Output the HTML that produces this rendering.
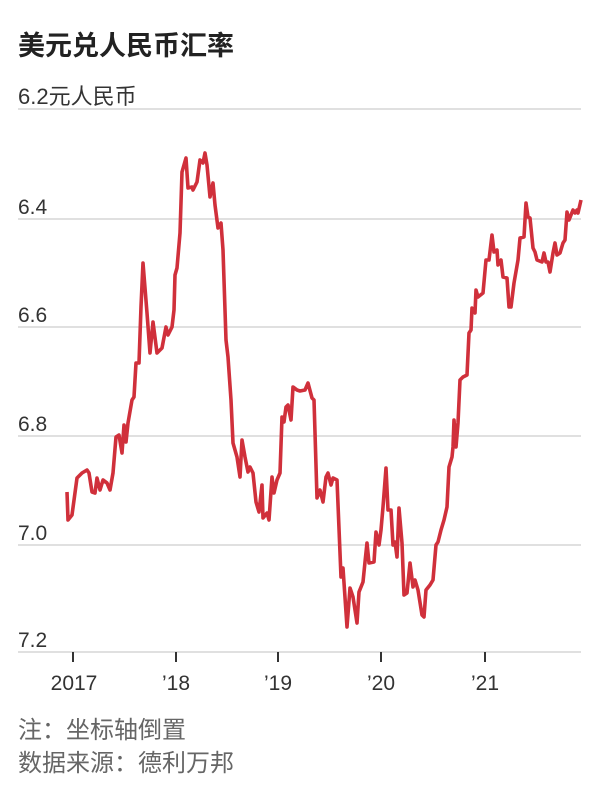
<!DOCTYPE html>
<html><head><meta charset="utf-8"><style>
html,body{margin:0;padding:0;background:#fff;}
svg{display:block;}
text{font-family:"Liberation Sans","Noto Sans CJK SC",sans-serif;}
</style></head><body>
<svg width="600" height="800" viewBox="0 0 600 800" xmlns="http://www.w3.org/2000/svg">
<text x="18" y="55" font-size="27" font-weight="bold" fill="#222">美元兑人民币汇率</text>
<g stroke="#e0e0e0" stroke-width="2">
<line x1="18" y1="109" x2="581" y2="109"/>
<line x1="18" y1="219" x2="581" y2="219"/>
<line x1="18" y1="327" x2="581" y2="327"/>
<line x1="18" y1="436" x2="581" y2="436"/>
<line x1="18" y1="545" x2="581" y2="545"/>
<line x1="18" y1="652" x2="581" y2="652"/>
</g>
<g font-size="21" fill="#333">
<text x="18" y="104" font-size="22">6.2元人民币</text>
<text x="18" y="214">6.4</text>
<text x="18" y="322">6.6</text>
<text x="18" y="431">6.8</text>
<text x="18" y="540">7.0</text>
<text x="18" y="647">7.2</text>
</g>
<g stroke="#333" stroke-width="2">
<line x1="73" y1="652" x2="73" y2="662"/>
<line x1="176" y1="652" x2="176" y2="662"/>
<line x1="278" y1="652" x2="278" y2="662"/>
<line x1="381" y1="652" x2="381" y2="662"/>
<line x1="485" y1="652" x2="485" y2="662"/>
</g>
<g font-size="21" fill="#333" text-anchor="middle">
<text x="74" y="690">2017</text>
<text x="176" y="690">’18</text>
<text x="278" y="690">’19</text>
<text x="381" y="690">’20</text>
<text x="485" y="690">’21</text>
</g>
<polyline fill="none" stroke="#d0303b" stroke-width="3.6" stroke-linejoin="round" points="
67,492 68,520 72,515 77,478 82,473 87,470 89,473 92,492 95,493 97,478 100,490 103,480 107,483 110,490 113,473 116,437 119,435 122,453 124,425 126,442 128,423 132,400 134,397 136,363 139,363 141,307 143,263 147,313 150,353 153,322 157,353 162,348 166,327 168,335 172,327 174,310 175,275 177,268 180,233 182,172 186,158 188,188 192,187 193,190 197,182 200,160 203,163 205,153 207,165 210,197 213,183 215,205 218,228 221,223 223,250 226,340 228,357 231,400 233,443 237,457 240,477 242,440 245,457 248,472 250,467 253,473 256,502 259,512 262,485 263,518 267,513 269,520 272,477 274,493 277,480 280,473 282,417 284,422 286,407 288,405 291,420 293,387 297,390 300,391 305,390 308,383 312,398 314,400 317,498 320,490 323,502 326,477 328,473 331,485 333,478 337,480 341,577 343,568 347,627 350,588 353,597 357,623 359,592 363,582 365,562 367,543 369,563 374,562 376,532 379,545 381,530 383,507 386,468 388,510 391,510 393,545 395,542 397,557 399,508 402,543 404,595 407,593 410,563 413,587 415,580 418,590 422,615 424,617 426,590 430,585 433,580 436,545 438,542 441,530 444,520 447,507 449,467 452,457 453,447 454,420 456,447 458,423 460,380 463,377 467,375 469,333 471,330 472,308 475,313 476,290 478,297 483,293 486,260 489,260 492,235 494,252 497,250 498,265 501,260 503,277 507,278 509,307 511,307 514,283 518,260 520,238 524,237 526,203 528,217 530,218 533,248 535,252 537,260 542,262 544,253 546,262 548,262 550,272 553,253 555,243 557,255 560,253 563,243 565,240 567,212 569,220 573,210 575,213 577,210 578,213 581,200"/>
<g font-size="24" fill="#666">
<text x="18" y="738">注：坐标轴倒置</text>
<text x="18" y="771">数据来源：德利万邦</text>
</g>
</svg>
</body></html>
